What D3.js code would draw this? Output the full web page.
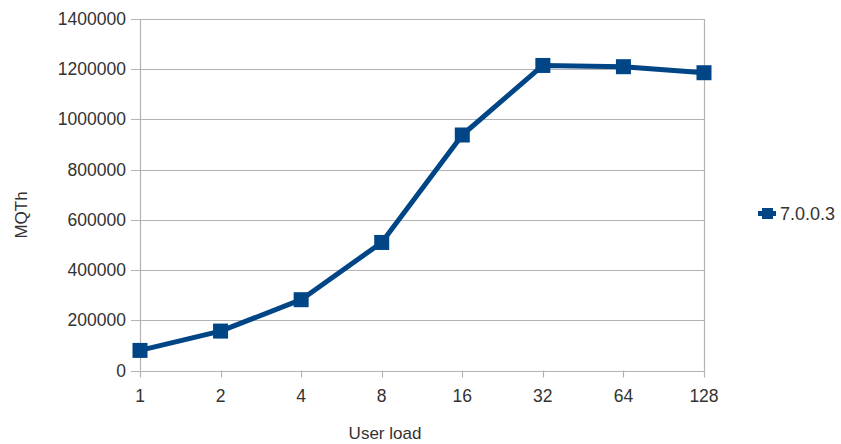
<!DOCTYPE html>
<html><head><meta charset="utf-8">
<script src="https://cdn.jsdelivr.net/npm/d3@7/dist/d3.min.js"></script>
<style>body{margin:0;background:#fff}svg{display:block}text{font-family:"Liberation Sans",Arial,sans-serif;fill:#333}</style>
</head><body><svg id="c" width="841" height="444"></svg>
<script>
const categories = ["1","2","4","8","16","32","64","128"];
const values = [80000, 157000, 282000, 510000, 938000, 1215000, 1210000, 1186000];
const yTicks = [0,200000,400000,600000,800000,1000000,1200000,1400000];
const seriesName = "7.0.0.3";

const svg = d3.select("#c");
const L = 140, R = 704, T = 19, B = 370.5;
const x = d3.scalePoint().domain(categories).range([L, R]).padding(0);
const y = d3.scaleLinear().domain([0, 1400000]).range([B, T]);
const grid = "#b3b3b3", col = "#004586";

// gridlines
svg.append("g").selectAll("line").data(yTicks).join("line")
  .attr("x1", L - 9).attr("x2", R).attr("y1", d => Math.round(y(d)) + 0.5).attr("y2", d => Math.round(y(d)) + 0.5)
  .attr("stroke", grid).attr("stroke-width", 1.2);
// left axis & right border
svg.append("line").attr("x1", L+0.5).attr("x2", L+0.5).attr("y1", T).attr("y2", B).attr("stroke", grid).attr("stroke-width",1.2);
svg.append("line").attr("x1", R+0.5).attr("x2", R+0.5).attr("y1", T).attr("y2", B).attr("stroke", grid).attr("stroke-width",1.2);
// x ticks
svg.append("g").selectAll("line").data(categories).join("line")
  .attr("x1", d => Math.round(x(d)) + 0.5).attr("x2", d => Math.round(x(d)) + 0.5)
  .attr("y1", B).attr("y2", B + 7).attr("stroke", grid).attr("stroke-width", 1.2);

// y tick labels
svg.append("g").selectAll("text").data(yTicks).join("text")
  .attr("x", L - 14).attr("y", d => y(d) + 6).attr("text-anchor", "end")
  .style("font-size", "17.5px").text(d => d);
// x tick labels
svg.append("g").selectAll("text").data(categories).join("text")
  .attr("x", d => x(d)).attr("y", 402).attr("text-anchor", "middle")
  .style("font-size", "17.5px").text(d => d);

// axis titles
svg.append("text").attr("x", 385).attr("y", 439).attr("text-anchor", "middle").style("font-size", "17px").text("User load");
svg.append("text").attr("transform", "translate(27,215) rotate(-90)").attr("text-anchor", "middle").style("font-size", "17px").text("MQTh");

// line
const line = d3.line().x((d,i) => x(categories[i])).y(d => y(d));
svg.append("path").datum(values).attr("d", line).attr("fill", "none")
  .attr("stroke", col).attr("stroke-width", 5).attr("stroke-linejoin", "round");
const ms = 15;
svg.append("g").selectAll("rect").data(values).join("rect")
  .attr("x", (d,i) => x(categories[i]) - ms/2).attr("y", d => y(d) - ms/2)
  .attr("width", ms).attr("height", ms).attr("fill", col);

// legend
const lg = svg.append("g");
lg.append("line").attr("x1", 758).attr("x2", 776).attr("y1", 213.5).attr("y2", 213.5).attr("stroke", col).attr("stroke-width", 5);
lg.append("rect").attr("x", 762).attr("y", 208).attr("width", 11).attr("height", 11).attr("fill", col);
lg.append("text").attr("x", 780).attr("y", 220).style("font-size", "18px").text(seriesName);
</script></body></html>
